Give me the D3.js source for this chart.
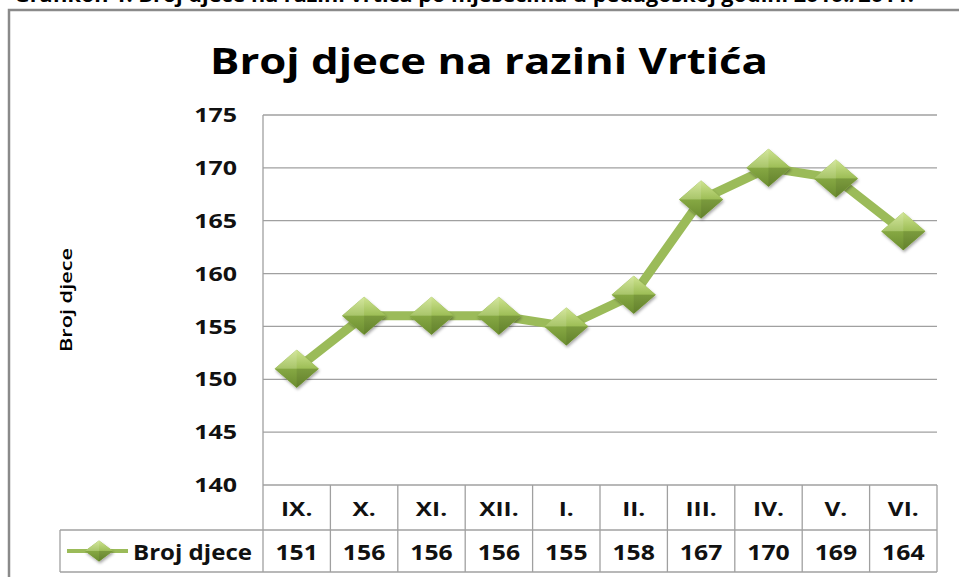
<!DOCTYPE html>
<html><head><meta charset="utf-8">
<script src="https://cdn.jsdelivr.net/npm/d3@7"></script>
<style>body{margin:0;background:#fff}svg{display:block}</style>
</head><body>
<svg id="c" width="959" height="577"></svg>
<script>
const categories = ["IX.","X.","XI.","XII.","I.","II.","III.","IV.","V.","VI."];
const values = [151,156,156,156,155,158,167,170,169,164];
const yTicks = [140,145,150,155,160,165,170,175];
const seriesName = "Broj djece";
const chartTitle = "Broj djece na razini Vrtića";
const captionText = "Grafikon 1. Broj djece na razini vrtića po mjesecima u pedagoškoj godini 2010./2011.";

const svg = d3.select("#c");
const font = "'Open Sans', 'DejaVu Sans', sans-serif";
const L = 263, R = 937, T = 115, B = 485;
const rowH1 = 45, rowH2 = 42;
const gridC = "#a0a0a0";

function stext(g, px, py, str, opts) {
  return g.append("text")
    .attr("transform", `translate(${px},${py}) scale(${opts.sx || 1},1)`)
    .attr("dy", opts.dy || null)
    .attr("text-anchor", opts.anchor || "start")
    .attr("font-family", font).attr("font-weight", opts.weight || 700)
    .attr("font-size", opts.size).attr("fill", opts.fill || "#111").text(str);
}

// caption at top (cut off in the reference as well)
svg.append("text").attr("x", 14).attr("y", 2).attr("font-family", font)
  .attr("font-weight", 700).attr("font-size", 20).attr("fill", "#000")
  .attr("textLength", 900).attr("lengthAdjust", "spacingAndGlyphs").text(captionText);

// outer frame
svg.append("path").attr("d", `M9,600 V10 H960`).attr("fill", "none")
  .attr("stroke", "#8a8a8a").attr("stroke-width", 2.5);

// title
svg.append("text").attr("x", 489).attr("y", 74).attr("text-anchor", "middle")
  .attr("font-family", font).attr("font-weight", 700).attr("font-size", 36)
  .attr("textLength", 558).attr("lengthAdjust", "spacingAndGlyphs")
  .attr("fill", "#000").text(chartTitle);

const x = d3.scaleBand().domain(categories).range([L, R]);
const y = d3.scaleLinear().domain([140, 175]).range([B, T]);

// gridlines
svg.append("g").selectAll("line").data(yTicks).join("line")
  .attr("x1", L).attr("x2", R).attr("y1", d => y(d)).attr("y2", d => y(d))
  .attr("stroke", gridC).attr("stroke-width", 1.3);
svg.append("line").attr("x1", L).attr("x2", L).attr("y1", T).attr("y2", B)
  .attr("stroke", gridC).attr("stroke-width", 1.3);

// y tick labels
const yl = svg.append("g");
yTicks.forEach(d => stext(yl, 237, y(d), d, {size: 20, sx: 1.25, dy: "0.36em", anchor: "end"}));

// y axis title
svg.append("text").attr("transform", "translate(72,300) rotate(-90)")
  .attr("text-anchor", "middle").attr("font-family", font).attr("font-size", 17)
  .attr("font-weight", 600)
  .attr("textLength", 104).attr("lengthAdjust", "spacingAndGlyphs")
  .attr("fill", "#000").text(seriesName);

// data table
const tb = svg.append("g").attr("stroke", gridC).attr("stroke-width", 1.3).attr("fill", "none");
const bounds = categories.map(c => x(c)).concat([R]);
tb.selectAll("line.v").data(bounds).join("line")
  .attr("x1", d => d).attr("x2", d => d).attr("y1", B).attr("y2", B + rowH1 + rowH2);
tb.append("line").attr("x1", L).attr("x2", R).attr("y1", B + rowH1).attr("y2", B + rowH1);
tb.append("line").attr("x1", 60).attr("x2", L).attr("y1", B + rowH1).attr("y2", B + rowH1);
tb.append("line").attr("x1", 60).attr("x2", R).attr("y1", B + rowH1 + rowH2).attr("y2", B + rowH1 + rowH2);
tb.append("line").attr("x1", 60).attr("x2", 60).attr("y1", B + rowH1).attr("y2", B + rowH1 + rowH2);

const cg = svg.append("g");
categories.forEach(c => stext(cg, x(c) + x.bandwidth() / 2, B + rowH1 / 2 + 1, c, {size: 20, sx: 1.22, dy: "0.36em", anchor: "middle"}));
const vg = svg.append("g");
values.forEach((v, i) => stext(vg, x(categories[i]) + x.bandwidth() / 2, B + rowH1 + rowH2 / 2 + 1, v, {size: 21, sx: 1.18, dy: "0.36em", anchor: "middle"}));

// gradients
const defs = svg.append("defs");
const gT = defs.append("linearGradient").attr("id", "gT").attr("x1", 0).attr("y1", 0).attr("x2", 0).attr("y2", 1);
gT.append("stop").attr("offset", "0").attr("stop-color", "#cfe491");
gT.append("stop").attr("offset", "1").attr("stop-color", "#9cbd55");
const gB = defs.append("linearGradient").attr("id", "gB").attr("x1", 0).attr("y1", 0).attr("x2", 0).attr("y2", 1);
gB.append("stop").attr("offset", "0").attr("stop-color", "#86a843");
gB.append("stop").attr("offset", "1").attr("stop-color", "#6b8c30");
const f = defs.append("filter").attr("id", "sh").attr("x", "-50%").attr("y", "-50%").attr("width", "200%").attr("height", "200%");
f.append("feDropShadow").attr("dx", 1).attr("dy", 2).attr("stdDeviation", 1.5).attr("flood-color", "#000").attr("flood-opacity", 0.35);

function diamond(g, cx, cy, w, h) {
  const gg = g.append("g").attr("transform", `translate(${cx},${cy})`);
  gg.append("path").attr("d", `M${-w/2},0 L0,${-h/2} L${w/2},0 L0,${h/2} Z`).attr("fill", "#8fb14c").attr("filter", "url(#sh)");
  gg.append("path").attr("d", `M${-w/2},0 L0,${-h/2} L${w/2},0 Z`).attr("fill", "url(#gT)");
  gg.append("path").attr("d", `M${-w/2},0 L0,${h/2} L${w/2},0 Z`).attr("fill", "url(#gB)");
  gg.append("path").attr("d", `M${-w/2},0 L0,${-h/2} L0,0 Z`).attr("fill", "#fff").attr("opacity", 0.12);
  gg.append("path").attr("d", `M0,0 L0,${h/2} L${w/2},0 Z`).attr("fill", "#000").attr("opacity", 0.08);
}

// line
const line = d3.line().x((d, i) => x(categories[i]) + x.bandwidth() / 2).y(d => y(d));
svg.append("path").datum(values).attr("d", line).attr("fill", "none")
  .attr("stroke", "#9bbb59").attr("stroke-width", 9).attr("stroke-linejoin", "round");
const mk = svg.append("g");
values.forEach((v, i) => diamond(mk, x(categories[i]) + x.bandwidth() / 2, y(v), 44, 38));

// legend
const ly = B + rowH1 + rowH2 / 2;
svg.append("line").attr("x1", 67).attr("x2", 128).attr("y1", ly).attr("y2", ly)
  .attr("stroke", "#9bbb59").attr("stroke-width", 4);
diamond(svg, 99, ly, 28, 21);
svg.append("text").attr("x", 133).attr("y", ly + 1).attr("dy", "0.36em")
  .attr("font-family", font).attr("font-weight", 700).attr("font-size", 21)
  .attr("textLength", 119).attr("lengthAdjust", "spacingAndGlyphs")
  .attr("fill", "#111").text(seriesName);
</script>
</body></html>
